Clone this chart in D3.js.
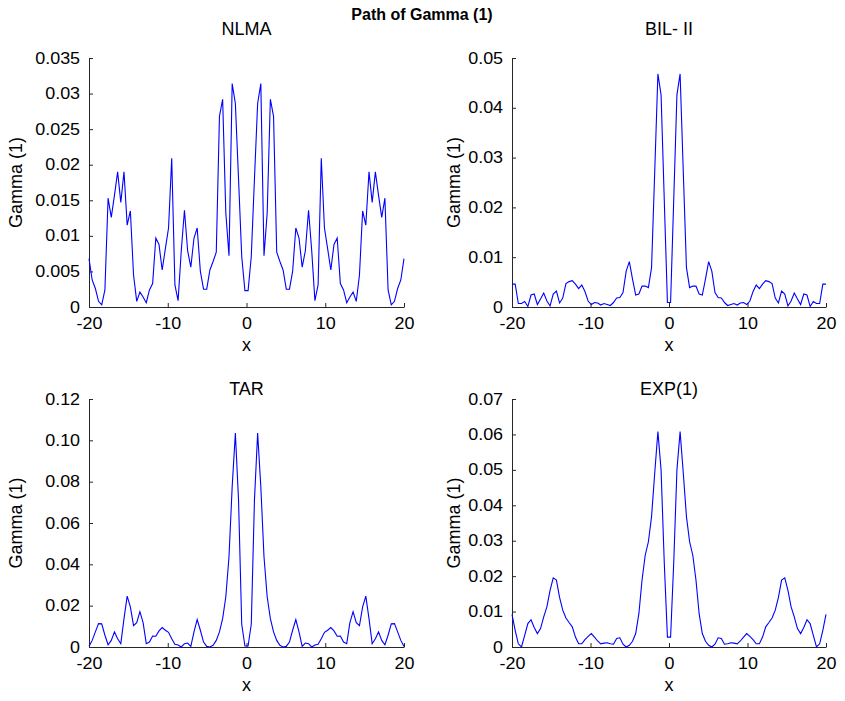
<!DOCTYPE html>
<html lang="en">
    <head>
        <meta charset="utf-8">
        <title>Path of Gamma (1)</title>
        <script type="text/javascript" src="https://d3js.org/d3.v7.min.js"></script>
        <style>
            body { margin: 0; background: #fff; }
            svg text { font-family: "Liberation Sans", Arial, Helvetica, sans-serif; fill: #000; }
        </style>
    </head>

    <body>
        <script type="text/javascript">
            // x grid: 100 points from -20 to 20
            var xStart = -20, xEnd = 20, nPoints = 100;
            var xTicks = [-20, -10, 0, 10, 20];

            var titles = ["NLMA", "BIL- II", "TAR", "EXP(1)"];
            var yMax = [0.035, 0.05, 0.12, 0.07];
            var yTickValues = [
                [0, 0.005, 0.01, 0.015, 0.02, 0.025, 0.03, 0.035],
                [0, 0.01, 0.02, 0.03, 0.04, 0.05],
                [0, 0.02, 0.04, 0.06, 0.08, 0.10, 0.12],
                [0, 0.01, 0.02, 0.03, 0.04, 0.05, 0.06, 0.07]
            ];
            var yTickLabels = [
                ["0", "0.005", "0.01", "0.015", "0.02", "0.025", "0.03", "0.035"],
                ["0", "0.01", "0.02", "0.03", "0.04", "0.05"],
                ["0", "0.02", "0.04", "0.06", "0.08", "0.10", "0.12"],
                ["0", "0.01", "0.02", "0.03", "0.04", "0.05", "0.06", "0.07"]
            ];

            var nlma = [0.0068, 0.0038, 0.0026, 0.0008, 0.0003, 0.0024, 0.0153, 0.0126, 0.0157, 0.0190,
                        0.0147, 0.0190, 0.0115, 0.0135, 0.0045, 0.0008, 0.0021, 0.0014, 0.0006, 0.0024,
                        0.0033, 0.0097, 0.0088, 0.0052, 0.0082, 0.0111, 0.0209, 0.0031, 0.0009, 0.0079,
                        0.0136, 0.0079, 0.0056, 0.0097, 0.0111, 0.0050, 0.0025, 0.0025, 0.0052, 0.0064,
                        0.0077, 0.0268, 0.0292, 0.0132, 0.0072, 0.0314, 0.0286, 0.0180, 0.0071, 0.0023,
                        0.0023, 0.0071, 0.0180, 0.0286, 0.0314, 0.0072, 0.0132, 0.0292, 0.0268, 0.0077,
                        0.0064, 0.0052, 0.0025, 0.0025, 0.0050, 0.0111, 0.0097, 0.0056, 0.0079, 0.0136,
                        0.0079, 0.0009, 0.0031, 0.0209, 0.0111, 0.0082, 0.0052, 0.0088, 0.0097, 0.0033,
                        0.0024, 0.0006, 0.0014, 0.0021, 0.0008, 0.0045, 0.0135, 0.0115, 0.0190, 0.0147,
                        0.0190, 0.0157, 0.0126, 0.0153, 0.0024, 0.0003, 0.0008, 0.0026, 0.0038, 0.0068];

            var bil = [0.0046, 0.0046, 0.0007, 0.0007, 0.0011, 0.0001, 0.0024, 0.0026, 0.0005, 0.0016,
                       0.0028, 0.0012, 0.0002, 0.0026, 0.0032, 0.0008, 0.0018, 0.0047, 0.0051, 0.0053,
                       0.0046, 0.0037, 0.0044, 0.0031, 0.0012, 0.0005, 0.0009, 0.0008, 0.0004, 0.0007,
                       0.0005, 0.0003, 0.0009, 0.0018, 0.0019, 0.0029, 0.0072, 0.0091, 0.0056, 0.0024,
                       0.0026, 0.0042, 0.0042, 0.0039, 0.0079, 0.0272, 0.0468, 0.0426, 0.0217, 0.0009,
                       0.0009, 0.0217, 0.0426, 0.0468, 0.0272, 0.0079, 0.0039, 0.0042, 0.0042, 0.0026,
                       0.0024, 0.0056, 0.0091, 0.0072, 0.0029, 0.0019, 0.0018, 0.0009, 0.0003, 0.0005,
                       0.0007, 0.0004, 0.0008, 0.0009, 0.0005, 0.0012, 0.0031, 0.0044, 0.0037, 0.0046,
                       0.0053, 0.0051, 0.0047, 0.0018, 0.0008, 0.0032, 0.0026, 0.0002, 0.0012, 0.0028,
                       0.0016, 0.0005, 0.0026, 0.0024, 0.0001, 0.0011, 0.0007, 0.0007, 0.0046, 0.0046];

            var tar = [0.0003, 0.0032, 0.0073, 0.0113, 0.0112, 0.0057, 0.0011, 0.0032, 0.0073, 0.0040,
                       0.0016, 0.0137, 0.0246, 0.0194, 0.0103, 0.0118, 0.0171, 0.0118, 0.0016, 0.0024,
                       0.0053, 0.0052, 0.0078, 0.0094, 0.0081, 0.0071, 0.0040, 0.0013, 0.0010, 0.0000,
                       0.0016, 0.0019, 0.0003, 0.0073, 0.0133, 0.0081, 0.0024, 0.0003, 0.0000, 0.0008,
                       0.0032, 0.0073, 0.0137, 0.0243, 0.0437, 0.0776, 0.1035, 0.0710, 0.0110, 0.0005,
                       0.0005, 0.0110, 0.0710, 0.1035, 0.0776, 0.0437, 0.0243, 0.0137, 0.0073, 0.0032,
                       0.0008, 0.0000, 0.0003, 0.0024, 0.0081, 0.0133, 0.0073, 0.0003, 0.0019, 0.0016,
                       0.0000, 0.0010, 0.0013, 0.0040, 0.0071, 0.0081, 0.0094, 0.0078, 0.0052, 0.0053,
                       0.0024, 0.0016, 0.0118, 0.0171, 0.0118, 0.0103, 0.0194, 0.0246, 0.0137, 0.0016,
                       0.0040, 0.0073, 0.0032, 0.0011, 0.0057, 0.0112, 0.0113, 0.0073, 0.0032, 0.0003];

            var exp1 = [0.0092, 0.0047, 0.0009, 0.0000, 0.0033, 0.0066, 0.0077, 0.0055, 0.0038, 0.0052,
                        0.0085, 0.0113, 0.0160, 0.0195, 0.0189, 0.0140, 0.0104, 0.0082, 0.0069, 0.0057,
                        0.0028, 0.0009, 0.0009, 0.0021, 0.0030, 0.0038, 0.0028, 0.0017, 0.0009, 0.0011,
                        0.0012, 0.0009, 0.0008, 0.0024, 0.0026, 0.0008, 0.0000, 0.0005, 0.0016, 0.0038,
                        0.0094, 0.0189, 0.0259, 0.0297, 0.0368, 0.0491, 0.0608, 0.0500, 0.0240, 0.0028,
                        0.0028, 0.0240, 0.0500, 0.0608, 0.0491, 0.0368, 0.0297, 0.0259, 0.0189, 0.0094,
                        0.0038, 0.0016, 0.0005, 0.0000, 0.0008, 0.0026, 0.0024, 0.0008, 0.0009, 0.0012,
                        0.0011, 0.0009, 0.0017, 0.0028, 0.0038, 0.0030, 0.0021, 0.0009, 0.0009, 0.0028,
                        0.0057, 0.0069, 0.0082, 0.0104, 0.0140, 0.0189, 0.0195, 0.0160, 0.0113, 0.0085,
                        0.0052, 0.0038, 0.0055, 0.0077, 0.0066, 0.0033, 0.0000, 0.0009, 0.0047, 0.0092];

            var series = [nlma, bil, tar, exp1];

            var svg = d3.select("body").append("svg").attr("width", 845).attr("height", 701);

            // plot boxes in pixels (left, top, width, height)
            var boxes = [
                {x: 89,  y: 58,  w: 315, h: 249, labelX: 22},
                {x: 512, y: 58,  w: 314, h: 249, labelX: 460},
                {x: 89,  y: 399, w: 315, h: 248, labelX: 22},
                {x: 512, y: 399, w: 314, h: 248, labelX: 460}
            ];
            var titleY = [35, 35, 395, 395];
            var stretch = 1.12; // tick labels in the picture are a bit wide

            // overall title
            svg.append("text")
                .attr("x", 422)
                .attr("y", 20)
                .attr("text-anchor", "middle")
                .style("font-size", "16px")
                .style("font-weight", "bold")
                .text("Path of Gamma (1)");

            series.forEach(function(values, k) {
                var b = boxes[k];
                var g = svg.append("g").attr("transform", "translate(" + b.x + "," + b.y + ")");

                var xScale = d3.scaleLinear().domain([xStart, xEnd]).range([0, b.w]);
                var yScale = d3.scaleLinear().domain([0, yMax[k]]).range([b.h, 0]);

                var line = d3.line()
                    .x(function(d, i) { return xScale(xStart + i * (xEnd - xStart) / (nPoints - 1)); })
                    .y(function(d) { return yScale(d); });

                // x axis, ticks pointing inward
                var xAxis = g.append("g")
                    .attr("transform", "translate(0," + b.h + ")")
                    .call(d3.axisBottom(xScale).tickValues(xTicks).tickSizeInner(-4).tickSizeOuter(0).tickPadding(11)
                        .tickFormat(function(d) { return String(d); }));

                // y axis
                var yAxis = g.append("g")
                    .call(d3.axisLeft(yScale).tickValues(yTickValues[k]).tickSizeInner(-4).tickSizeOuter(0).tickPadding(8)
                        .tickFormat(function(d, i) { return yTickLabels[k][i]; }));

                [xAxis, yAxis].forEach(function(a) {
                    a.selectAll("path, line").attr("stroke", "#262626");
                    a.selectAll("text").style("font-size", "16px").attr("fill", "#000")
                        .style("font-family", "'Liberation Sans', Arial, sans-serif")
                        .attr("transform", "scale(" + stretch + ",1)");
                });

                g.append("path")
                    .datum(values)
                    .attr("fill", "none")
                    .attr("stroke", "#0000ff")
                    .attr("stroke-width", 1.1)
                    .attr("d", line);

                // panel title
                svg.append("text")
                    .attr("x", b.x + b.w / 2)
                    .attr("y", titleY[k])
                    .attr("text-anchor", "middle")
                    .style("font-size", "18px")
                    .text(titles[k]);

                // x label
                svg.append("text")
                    .attr("x", b.x + b.w / 2)
                    .attr("y", b.y + b.h + 44)
                    .attr("text-anchor", "middle")
                    .style("font-size", "18px")
                    .text("x");

                // y label
                svg.append("text")
                    .attr("transform", "translate(" + b.labelX + "," + (b.y + b.h / 2) + ") rotate(-90)")
                    .attr("text-anchor", "middle")
                    .style("font-size", "18px")
                    .text("Gamma (1)");
            });
        </script>
    </body>
</html>
